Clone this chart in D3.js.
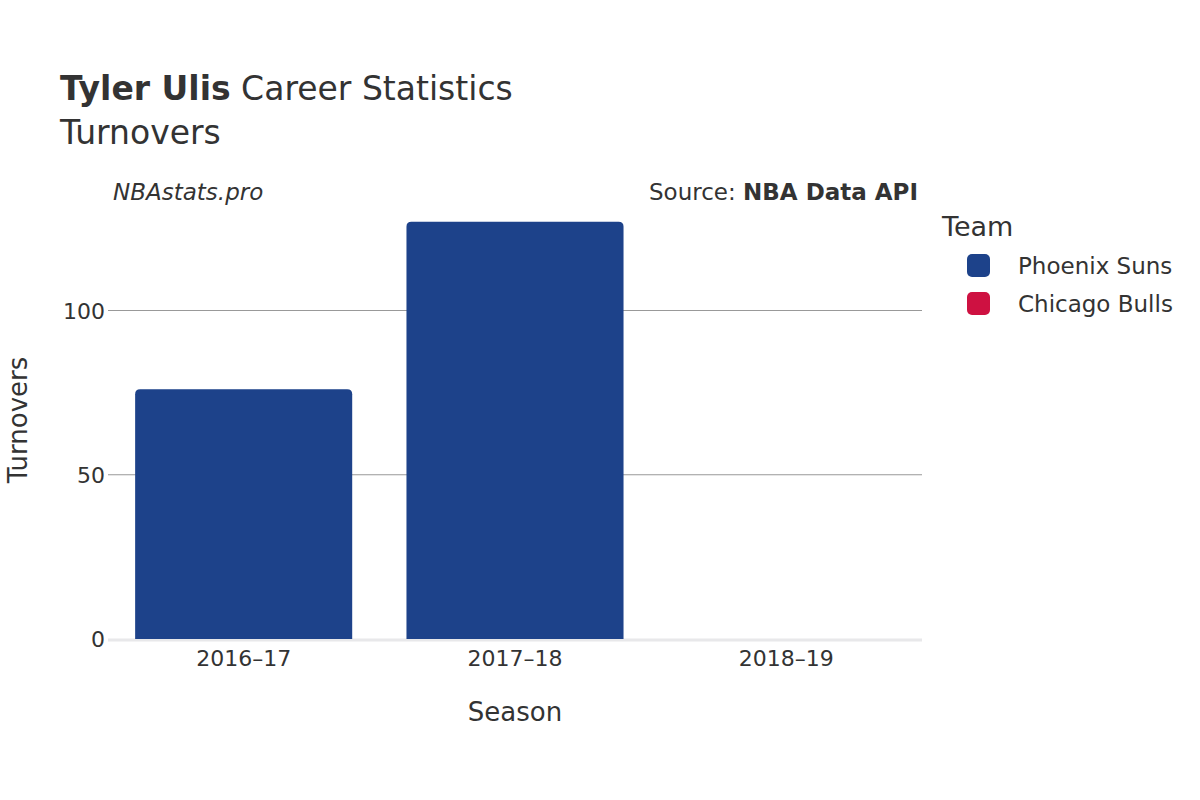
<!DOCTYPE html>
<html><head><meta charset="utf-8">
<script src="https://cdn.jsdelivr.net/npm/d3@7"></script>
<style>body{margin:0;background:#fff}text{font-family:"DejaVu Sans",sans-serif;fill:#333}</style>
</head><body><svg id="c" width="1200" height="800"></svg>
<script>
const seasons=["2016–17","2017–18","2018–19"];
const teams=["Phoenix Suns","Chicago Bulls"];
const teamColors=["#1d428a","#ce1141"];
const barTeam=["Phoenix Suns","Phoenix Suns","Chicago Bulls"];
const turnovers=[76,127,0];
const yTicks=[0,50,100];

const svg=d3.select("#c");
const x=d3.scaleBand().domain(seasons).range([108,922]).paddingInner(0.2).paddingOuter(0.1);
const y=d3.scaleLinear().domain([0,100]).range([639,310.5]);

svg.append("g").selectAll("line").data(yTicks.filter(d=>d>0)).join("line")
 .attr("x1",108).attr("x2",922).attr("y1",d=>y(d)).attr("y2",d=>y(d)).attr("stroke","#999").attr("stroke-width",1);
svg.append("line").attr("x1",108).attr("x2",922).attr("y1",y(0)+1).attr("y2",y(0)+1).attr("stroke","#e8e8ea").attr("stroke-width",3);
svg.append("g").selectAll("text").data(yTicks).join("text")
 .attr("x",105).attr("y",d=>y(d)+8).attr("text-anchor","end").attr("font-size",22).text(d=>d);

svg.append("g").selectAll("path").data(seasons).join("path")
 .attr("fill",(d,i)=>teamColors[teams.indexOf(barTeam[i])])
 .attr("d",(d,i)=>{const x0=x(d),w=x.bandwidth(),y0=y(turnovers[i]),y1=y(0),r=Math.min(5,(y1-y0)/2);
   if(y1-y0<=0) return "";
   return `M${x0},${y1}V${y0+r}Q${x0},${y0} ${x0+r},${y0}H${x0+w-r}Q${x0+w},${y0} ${x0+w},${y0+r}V${y1}Z`;});

svg.append("g").selectAll("text").data(seasons).join("text")
 .attr("x",d=>x(d)+x.bandwidth()/2).attr("y",666).attr("text-anchor","middle").attr("font-size",22).text(d=>d);

svg.append("text").attr("x",515).attr("y",721).attr("text-anchor","middle").attr("font-size",26).text("Season");
svg.append("text").attr("transform","translate(27,420) rotate(-90)").attr("text-anchor","middle").attr("font-size",26).text("Turnovers");

const t=svg.append("text").attr("x",60).attr("y",100).attr("font-size",33);
t.append("tspan").attr("font-weight","bold").text("Tyler Ulis");
t.append("tspan").text(" Career Statistics");
svg.append("text").attr("x",60).attr("y",144).attr("font-size",33).text("Turnovers");
svg.append("text").attr("x",113).attr("y",200).attr("font-size",23).attr("font-style","italic").text("NBAstats.pro");
const s=svg.append("text").attr("x",918).attr("y",200).attr("font-size",23).attr("text-anchor","end");
s.append("tspan").text("Source: ");s.append("tspan").attr("font-weight","bold").text("NBA Data API");

svg.append("text").attr("x",942).attr("y",236).attr("font-size",27).text("Team");
const lg=svg.append("g").selectAll("g").data(teams).join("g").attr("transform",(d,i)=>`translate(967,${254+i*38})`);
lg.append("rect").attr("width",23).attr("height",23).attr("rx",5).attr("fill",(d,i)=>teamColors[i]);
lg.append("text").attr("x",51).attr("y",20).attr("font-size",23).text(d=>d);
</script></body></html>
